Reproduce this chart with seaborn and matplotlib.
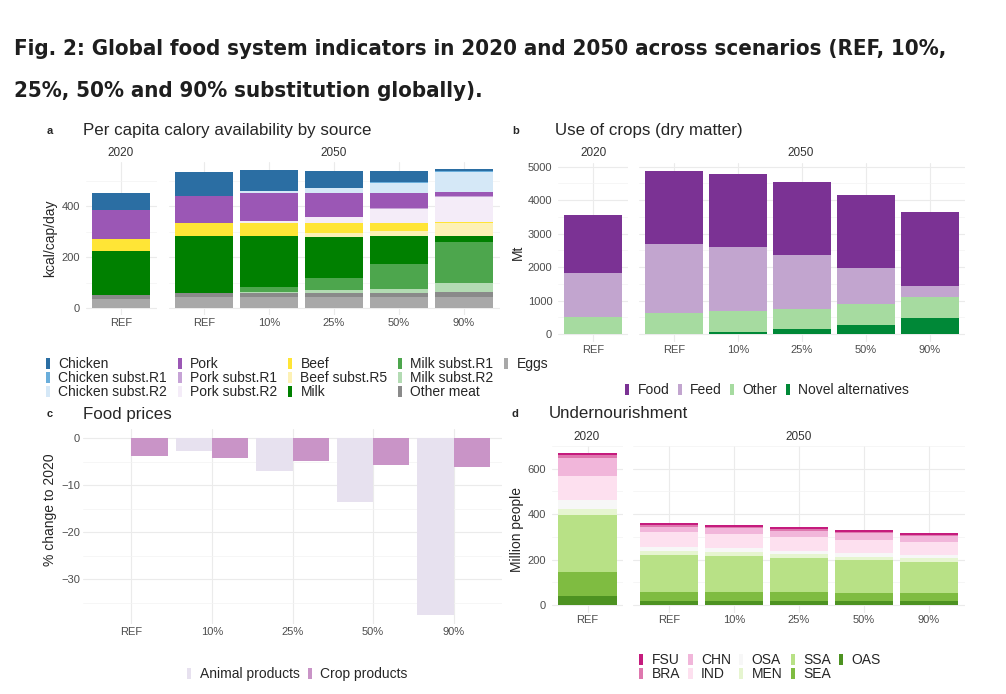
import matplotlib
matplotlib.use("Agg")
import matplotlib.pyplot as plt
from matplotlib import font_manager as fm
from matplotlib.patches import Patch
from matplotlib.ticker import MultipleLocator
import pandas as pd
import seaborn as sns

W, H = 1006, 694

scen_2020 = ["REF"]
scen_2050 = ["REF", "10%", "25%", "50%", "90%"]
cols = ["2020 REF", "2050 REF", "2050 10%", "2050 25%", "2050 50%", "2050 90%"]

# a: per capita calories (kcal/cap/day), stacked bottom -> top
cal_sources = ["Eggs", "Other meat", "Milk subst.R2", "Milk subst.R1", "Milk",
               "Beef subst.R5", "Beef", "Pork subst.R2", "Pork subst.R1", "Pork",
               "Chicken subst.R2", "Chicken subst.R1", "Chicken"]
cal_values = {
    "Eggs":             [38, 43, 43, 43, 43, 45],
    "Other meat":       [14, 18, 18, 18, 18, 20],
    "Milk subst.R2":    [0, 0, 3, 11, 16, 33],
    "Milk subst.R1":    [0, 0, 18, 45, 95, 162],
    "Milk":             [174, 223, 199, 163, 109, 22],
    "Beef subst.R5":    [0, 0, 3, 14, 23, 50],
    "Beef":             [44, 49, 51, 38, 30, 5],
    "Pork subst.R2":    [0, 0, 5, 24, 54, 100],
    "Pork subst.R1":    [0, 0, 3, 3, 3, 4],
    "Pork":             [116, 107, 110, 93, 60, 16],
    "Chicken subst.R2": [0, 0, 5, 17, 40, 75],
    "Chicken subst.R1": [0, 0, 2, 3, 3, 4],
    "Chicken":          [65, 92, 80, 66, 43, 10],
}
cal_colors = {
    "Chicken": "#2b6ea3", "Chicken subst.R1": "#6aaedb", "Chicken subst.R2": "#d5e8f7",
    "Pork": "#9b57b5", "Pork subst.R1": "#c6a3d6", "Pork subst.R2": "#f4ecf8",
    "Beef": "#ffe536", "Beef subst.R5": "#fdf1b5",
    "Milk": "#008000", "Milk subst.R1": "#4da64d", "Milk subst.R2": "#b3dbb3",
    "Other meat": "#8a8a8a", "Eggs": "#a8a8a8",
}
cal_legend = ["Chicken", "Chicken subst.R1", "Chicken subst.R2", "Pork", "Pork subst.R1",
              "Pork subst.R2", "Beef", "Beef subst.R5", "Milk", "Milk subst.R1",
              "Milk subst.R2", "Other meat", "Eggs"]

# b: use of crops (Mt dry matter), bottom -> top
crop_uses = ["Novel alternatives", "Other", "Feed", "Food"]
crop_values = {
    "Novel alternatives": [0, 0, 60, 139, 259, 468],
    "Other":              [498, 618, 617, 608, 647, 648],
    "Feed":               [1315, 2071, 1923, 1614, 1066, 318],
    "Food":               [1743, 2191, 2181, 2191, 2191, 2211],
}
crop_colors = {"Food": "#7b3294", "Feed": "#c2a5cf", "Other": "#a6dba0",
               "Novel alternatives": "#008837"}
crop_legend = ["Food", "Feed", "Other", "Novel alternatives"]

# c: food prices, % change to 2020 (2050 scenarios)
price_animal = [0, -2.8, -7.0, -13.5, -37.7]
price_crop = [-3.7, -4.2, -4.8, -5.6, -6.2]
price_colors = {"Animal products": "#e7e1ef", "Crop products": "#c994c7"}

# d: undernourishment (million people), bottom -> top
regions = ["OAS", "SEA", "SSA", "MEN", "OSA", "IND", "CHN", "BRA", "FSU"]
region_values = {
    "OAS": [41, 18, 18, 17, 17, 16],
    "SEA": [103, 41, 39, 39, 37, 36],
    "SSA": [252, 161, 160, 152, 144, 139],
    "MEN": [26, 18, 16, 16, 15, 14],
    "OSA": [40, 19, 17, 16, 15, 15],
    "IND": [106, 63, 62, 60, 60, 57],
    "CHN": [80, 25, 25, 28, 27, 25],
    "BRA": [12, 7, 8, 8, 8, 8],
    "FSU": [9, 7, 7, 6, 7, 6],
}
region_legend = ["FSU", "BRA", "CHN", "IND", "OSA", "MEN", "SSA", "SEA", "OAS"]
region_colors = dict(zip(region_legend, ["#c51b7d", "#de77ae", "#f1b6da", "#fde0ef", "#f7f7f7",
                                         "#e6f5d0", "#b8e186", "#7fbc41", "#4d9221"]))

title_lines = ["Fig. 2: Global food system indicators in 2020 and 2050 across scenarios (REF, 10%,",
               "25%, 50% and 90% substitution globally)."]

sns.set_theme(style="white")
plt.rcParams["font.family"] = ["Liberation Sans", "DejaVu Sans"]

TICK_C = "#4d4d4d"
GRID_C = "#ebebeb"


def title_font():
    # prefer a condensed bold face if one is installed
    for f in fm.fontManager.ttflist:
        low = f.fname.lower()
        if ("narrow" in low or "condensed" in low) and "bold" in low and "oblique" not in low \
                and "italic" not in low:
            return fm.FontProperties(fname=f.fname)
    return fm.FontProperties(family="Liberation Sans", weight="bold")


def px_axes(fig, x0, y0, x1, y1):
    return fig.add_axes([x0 / W, 1 - y1 / H, (x1 - x0) / W, (y1 - y0) / H])


def long_table(values, comps):
    rows = []
    for comp in comps:
        for col, v in zip(cols, values[comp]):
            year, scen = col.split(" ")
            rows.append({"year": year, "scenario": scen, "component": comp, "value": v})
    return pd.DataFrame(rows)


def stacked(ax, df, year, comps, colors):
    sub = df[df["year"] == year]
    order = scen_2020 if year == "2020" else scen_2050
    wide = sub.pivot(index="scenario", columns="component", values="value").reindex(order)[comps]
    cum = wide.cumsum(axis=1)
    for comp in reversed(comps):
        d = pd.DataFrame({"scenario": order, "top": cum[comp].values})
        sns.barplot(data=d, x="scenario", y="top", order=order, color=colors[comp],
                    width=0.9, saturation=1, errorbar=None, linewidth=0, ax=ax)
    ax.set_xlim(-0.55, len(order) - 0.45)


def style(ax, ylim, major, minor, show_y=True):
    ax.set_ylim(*ylim)
    ax.yaxis.set_major_locator(MultipleLocator(major))
    ax.yaxis.set_minor_locator(MultipleLocator(minor))
    ax.grid(which="major", color=GRID_C, lw=0.8)
    ax.grid(which="minor", axis="y", color="#f3f3f3", lw=0.5)
    ax.set_axisbelow(True)
    for s in ax.spines.values():
        s.set_visible(False)
    ax.set_xlabel("")
    ax.set_ylabel("")
    ax.tick_params(axis="both", which="both", length=0, labelsize=8, labelcolor=TICK_C)
    ax.tick_params(axis="x", pad=2)
    ax.tick_params(axis="y", pad=4)
    if not show_y:
        ax.set_yticklabels([])


def legend(fig, labels, colors, x, y, ncol, spacing=0.9, blanks=0):
    handles = [Patch(facecolor=colors[l], edgecolor="none", label=l) for l in labels]
    handles += [Patch(facecolor="none", edgecolor="none", label="") for _ in range(blanks)]
    fig.legend(handles=handles, loc="upper left", bbox_to_anchor=(x / W, 1 - y / H),
               ncol=ncol, frameon=False, fontsize=10, handlelength=0.3, handleheight=0.85,
               handletextpad=0.6, columnspacing=spacing, labelspacing=0.0,
               borderpad=0, borderaxespad=0)


def label(fig, x, y, s, **kw):
    return fig.text(x / W, 1 - y / H, s, **kw)


fig = plt.figure(figsize=(W / 100, H / 100), dpi=100)
fig.patch.set_facecolor("white")

tf = title_font()
tf.set_size(19)
t1 = label(fig, 14, 55, title_lines[0], fontproperties=tf, color="#1e1e1e", va="baseline")
t2 = label(fig, 14, 97, title_lines[1], fontproperties=tf, color="#1e1e1e", va="baseline")
fig.canvas.draw()
scale = 929 / t1.get_window_extent().width
tf.set_size(19 * scale)
t1.set_fontproperties(tf)
t2.set_fontproperties(tf)

# ---- a
df_a = long_table(cal_values, cal_sources)
ax_a1 = px_axes(fig, 85.5, 161.8, 156.5, 315.2)
ax_a2 = px_axes(fig, 168.5, 161.8, 499.5, 315.2)
stacked(ax_a1, df_a, "2020", cal_sources, cal_colors)
stacked(ax_a2, df_a, "2050", cal_sources, cal_colors)
style(ax_a1, (-27.3, 573.3), 200, 100)
style(ax_a2, (-27.3, 573.3), 200, 100, show_y=False)
label(fig, 47, 131, "a", fontsize=8, fontweight="bold", va="center")
label(fig, 83, 131, "Per capita calory availability by source", fontsize=12.2, va="center")
label(fig, 121, 153, "2020", fontsize=8.5, color="#333333", ha="center", va="center")
label(fig, 334, 153, "2050", fontsize=8.5, color="#333333", ha="center", va="center")
label(fig, 50, 238, "kcal/cap/day", fontsize=10, rotation=90, ha="center", va="center")
legend(fig, cal_legend, cal_colors, 46, 357, 5, spacing=0.75, blanks=2)

# ---- b
df_b = long_table(crop_values, crop_uses)
ax_b1 = px_axes(fig, 557.8, 162.5, 628.2, 342.2)
ax_b2 = px_axes(fig, 638.8, 162.5, 965.2, 342.2)
stacked(ax_b1, df_b, "2020", crop_uses, crop_colors)
stacked(ax_b2, df_b, "2050", crop_uses, crop_colors)
style(ax_b1, (-244, 5124), 1000, 500)
style(ax_b2, (-244, 5124), 1000, 500, show_y=False)
label(fig, 512, 131, "b", fontsize=8, fontweight="bold", va="center")
label(fig, 555, 131, "Use of crops (dry matter)", fontsize=12.2, va="center")
label(fig, 594, 153, "2020", fontsize=8.5, color="#333333", ha="center", va="center")
label(fig, 801, 153, "2050", fontsize=8.5, color="#333333", ha="center", va="center")
label(fig, 518, 252, "Mt", fontsize=10, rotation=90, ha="center", va="center")
legend(fig, crop_legend, crop_colors, 625, 383, 4, spacing=0.6)

# ---- c
df_c = pd.DataFrame({
    "scenario": scen_2050 * 2,
    "type": ["Animal products"] * 5 + ["Crop products"] * 5,
    "value": price_animal + price_crop,
})
ax_c = px_axes(fig, 83, 429.4, 502, 624.4)
sns.barplot(data=df_c, x="scenario", y="value", hue="type", order=scen_2050,
            hue_order=list(price_colors), palette=price_colors, width=0.9, saturation=1,
            errorbar=None, linewidth=0, legend=False, ax=ax_c)
ax_c.set_xlim(-0.6, 4.6)
style(ax_c, (-39.6, 1.885), 10, 5)
ax_c.tick_params(axis="y", pad=2)
label(fig, 47, 414, "c", fontsize=8, fontweight="bold", va="center")
label(fig, 83, 414, "Food prices", fontsize=12.2, va="center")
label(fig, 50, 510, "% change to 2020", fontsize=10, rotation=90, ha="center", va="center")
legend(fig, list(price_colors), price_colors, 187, 667, 2, spacing=0.6)

# ---- d
df_d = long_table(region_values, regions)
ax_d1 = px_axes(fig, 551.75, 445.5, 623.25, 612.6)
ax_d2 = px_axes(fig, 633.25, 445.5, 964.75, 612.6)
stacked(ax_d1, df_d, "2020", regions, region_colors)
stacked(ax_d2, df_d, "2050", regions, region_colors)
style(ax_d1, (-33.45, 702.45), 200, 100)
style(ax_d2, (-33.45, 702.45), 200, 100, show_y=False)
label(fig, 512, 414, "d", fontsize=8, fontweight="bold", va="center")
label(fig, 549, 414, "Undernourishment", fontsize=12.2, va="center")
label(fig, 587, 437, "2020", fontsize=8.5, color="#333333", ha="center", va="center")
label(fig, 799, 437, "2050", fontsize=8.5, color="#333333", ha="center", va="center")
label(fig, 517, 530, "Million people", fontsize=10, rotation=90, ha="center", va="center")
legend(fig, region_legend, region_colors, 639, 653, 5, spacing=0.6)

fig.savefig("out.png", dpi=100, facecolor="white")
